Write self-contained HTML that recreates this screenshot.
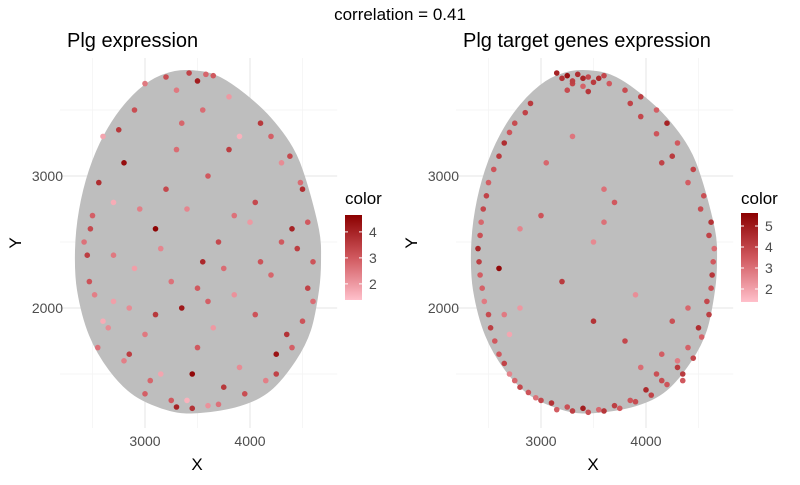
<!DOCTYPE html>
<html><head><meta charset="utf-8"><style>
body{margin:0;background:#fff;width:800px;height:480px;overflow:hidden}
svg text{font-family:"Liberation Sans",sans-serif}
</style></head><body>
<svg id="chart" width="800" height="480" viewBox="0 0 800 480">
<defs>
<linearGradient id="g1" x1="0" y1="1" x2="0" y2="0"><stop offset="0" stop-color="#ffc0cb"/><stop offset="0.5" stop-color="#d0585e"/><stop offset="1" stop-color="#8b0000"/></linearGradient>
</defs>
<text x="400" y="20" font-size="17" text-anchor="middle" fill="#000">correlation = 0.41</text>
</svg>
<script>
// tissue outline in data units (shared)
const outlineX=[3286,3524,3714,3952,4190,4400,4524,4648,4667,4648,4571,4429,4190,3905,3524,3238,2905,2667,2476,2362,2343,2381,2476,2619,2810,3048];
const outlineY=[3788,3788,3742,3614,3439,3212,2970,2591,2364,2136,1833,1606,1379,1265,1212,1227,1341,1530,1795,2136,2439,2742,3045,3311,3538,3712];
const xTicks=[3000,4000];
const yTicks=[2000,3000];
const leftX=[3000,3200,3500,3800,4100,2600,2800,3300,3600,3900,4300,4500,2500,2700,3100,3400,3700,4000,4400,2450,2900,3250,3550,3850,4200,4550,2600,3000,3350,3650,4050,4350,2800,3150,3500,3900,4250,3000,3400,3750,4150,3300,3600,3200,3550,2700,4450,2550,4600,3450,
 3420,3580,3650,3300,2900,2750,4200,4380,4480,4550,2420,2470,2520,2650,2850,3050,3250,3450,3700,3950,4250,4400,4500,4600,2560,2700,3150,3500,3850,4050,3350,3800,2950,3600,4100,2850,3100,3750,4300,2480];
const leftY=[3700,3750,3720,3600,3400,3300,3100,3200,3000,3300,3100,2900,2700,2800,2600,2750,2500,2650,2600,2400,2300,2200,2350,2100,2250,2150,1900,1800,2000,1850,1950,1800,1600,1500,1700,1550,1650,1350,1300,1400,1450,1250,1260,2900,3500,2050,2450,1700,2350,1500,
 3780,3770,3760,3650,3500,3350,3300,3150,2950,2650,2500,2200,2100,1850,1650,1450,1300,1240,1270,1350,1500,1700,1900,2050,2950,2400,2450,2150,2700,2800,3400,3200,2750,2050,2350,2000,1950,2300,2500,2600];
const leftV=[2.5,3.2,4.1,2.0,3.6,1.8,4.4,2.7,3.0,1.6,2.2,3.8,2.9,1.7,4.6,2.3,3.3,2.0,4.0,3.5,1.9,2.6,3.9,2.1,2.8,3.4,1.7,2.5,4.2,2.0,3.1,3.7,2.4,1.8,3.0,2.2,4.3,2.9,1.6,3.6,2.4,4.0,2.1,3.3,2.7,1.9,3.5,2.6,3.1,4.5,
 3.4,2.8,3.0,2.5,3.2,3.6,2.9,3.3,2.7,3.0,2.6,3.1,2.4,2.2,3.5,2.8,3.0,3.7,2.6,3.2,3.4,2.9,3.1,2.7,3.8,2.5,2.3,3.0,2.6,3.3,2.8,3.5,2.4,2.9,3.1,2.2,3.6,2.7,3.0,3.3];
const rightX=[3150,3250,3350,3450,3550,3650,3300,3400,2900,2750,2650,2550,2480,2430,2400,2420,2460,2520,2600,2700,2800,2950,3100,3250,3400,3550,3700,3850,4000,4150,4300,4400,4500,4580,4630,4650,4620,4550,4450,4300,4200,4100,3950,3800,3600,3500,3200,2800,2600,3000,4300,3800,3500,3900,4100,2700,4400,4150,3300,3700,
 3200,3300,3400,3500,3600,3250,3450,2850,2700,2600,2500,2450,2420,2410,2440,2500,2560,2650,2750,2880,3000,3150,3300,3450,3600,3750,3900,4050,4200,4350,4450,4530,4600,4620,4640,4600,4520,4400,4250,4100,3950,3850,2800,3050,3600,4250,4150,3950,4350,2650];
const rightY=[3780,3760,3770,3750,3740,3700,3700,3680,3550,3400,3250,3050,2850,2650,2450,2250,2050,1850,1650,1500,1400,1320,1280,1250,1240,1230,1260,1300,1380,1450,1550,1700,1850,2050,2250,2450,2650,2850,3050,3250,3400,3500,3600,3650,2900,2500,2200,2000,2300,2700,1600,1750,1900,2100,1500,1800,2000,3100,3300,2800,
 3740,3720,3740,3710,3760,3650,3640,3480,3330,3150,2950,2750,2550,2350,2150,1950,1750,1580,1450,1360,1300,1230,1220,1210,1220,1240,1290,1340,1420,1500,1620,1780,1950,2150,2350,2550,2750,2950,3150,3320,3450,3550,2600,3100,2650,1900,1650,1550,1450,1950];
const rightV=[4.8,5.2,4.5,3.9,4.6,3.5,4.0,3.3,4.2,3.8,4.5,3.6,4.0,3.2,4.7,3.4,2.8,4.1,3.5,2.6,3.9,3.0,4.4,3.7,4.9,3.2,4.1,3.6,4.6,3.8,4.2,3.3,4.5,3.9,4.3,3.1,4.4,3.7,4.0,3.5,4.8,3.4,4.1,3.8,3.0,2.5,4.2,2.2,5.4,3.6,2.8,3.9,4.4,2.4,3.7,1.9,3.2,4.0,2.9,3.5,
 4.4,4.1,4.7,4.2,3.9,3.8,4.3,4.0,3.6,4.2,3.4,3.9,3.7,4.1,3.3,3.8,3.5,4.0,3.2,3.6,3.9,3.4,4.1,3.7,4.3,3.5,3.8,4.0,3.6,4.2,3.9,3.3,4.1,3.7,3.5,4.0,3.8,3.4,4.2,3.6,3.9,4.0,2.6,3.2,3.0,3.7,3.4,3.1,3.5,2.8];
const leftTicks=[2,3,4];
const rightTicks=[2,3,4,5];

const svg=document.getElementById('chart');
const NS='http://www.w3.org/2000/svg';
function mk(tag,attrs,parent){const e=document.createElementNS(NS,tag);for(const k in attrs)e.setAttribute(k,attrs[k]);(parent||svg).appendChild(e);return e;}
function lerpColor(t){t=Math.max(0,Math.min(1,t));
  const a=[255,192,203],m=[208,88,94],b=[139,0,0];let p,q,u;
  if(t<0.5){p=a;q=m;u=t*2;}else{p=m;q=b;u=(t-0.5)*2;}
  return 'rgb('+p.map((v,i)=>Math.round(v+(q[i]-v)*u)).join(',')+')';}
function smoothPath(P){const n=P.length;let d='M'+P[0][0]+','+P[0][1];
  for(let i=0;i<n;i++){const p0=P[(i-1+n)%n],p1=P[i],p2=P[(i+1)%n],p3=P[(i+2)%n];
    d+=' C'+(p1[0]+(p2[0]-p0[0])/6)+','+(p1[1]+(p2[1]-p0[1])/6)+' '+(p2[0]-(p3[0]-p1[0])/6)+','+(p2[1]-(p3[1]-p1[1])/6)+' '+p2[0]+','+p2[1];}
  return d+'Z';}

function panel(name,x0,title,px,py,pv,vmin,vmax,ticks,barTop,barBot){
  const sx=v=>x0+(v-3000)*0.105;
  const sy=v=>176-(v-3000)*0.132;
  const g=mk('g',{});
  
  
  [2500,3000,3500,4000,4500].forEach(v=>{const l=mk('line',{x1:sx(v),x2:sx(v),y1:58,y2:428,stroke:v%1000?'#f3f3f3':'#e6e6e6','stroke-width':v%1000?0.7:1.1},g);
    });
  [1500,2000,2500,3000,3500].forEach(v=>{const l=mk('line',{x1:sx(2190),x2:sx(4830),y1:sy(v),y2:sy(v),stroke:v%1000?'#f3f3f3':'#e6e6e6','stroke-width':v%1000?0.7:1.1},g);
    });
  const P=outlineX.map((v,i)=>[sx(v),sy(outlineY[i])]);
  const poly=mk('path',{d:smoothPath(P),fill:'#bebebe',stroke:'#bebebe','stroke-width':2},g);
  
  
  px.forEach((v,i)=>{const c=mk('circle',{cx:sx(v),cy:sy(py[i]),r:2.8,fill:lerpColor((pv[i]-vmin)/(vmax-vmin))},g);
    });
  xTicks.forEach(v=>{const t=mk('text',{x:sx(v),y:446,'font-size':14,'text-anchor':'middle',fill:'#4d4d4d'},g);t.textContent=v;
    });
  yTicks.forEach(v=>{const t=mk('text',{x:x0-82,y:sy(v)+5,'font-size':14,'text-anchor':'end',fill:'#4d4d4d'},g);t.textContent=v;
    });
  let t=mk('text',{x:x0+52,y:470,'font-size':17,'text-anchor':'middle',fill:'#000'},g);t.textContent='X';
  
  t=mk('text',{x:0,y:0,'font-size':17,'text-anchor':'middle',fill:'#000',transform:'translate('+(x0-124)+',243) rotate(-90)'},g);t.textContent='Y';
  
  t=mk('text',{x:x0-78,y:47,'font-size':20,fill:'#000'},g);t.textContent=title;
  
  const lx=x0+200;
  t=mk('text',{x:lx,y:204,'font-size':17,fill:'#000'},g);t.textContent='color';
  
  const r=mk('rect',{x:lx,y:barTop,width:17,height:barBot-barTop,fill:'url(#g1)'},g);
  
  const vy=v=>barBot-(v-vmin)/(vmax-vmin)*(barBot-barTop);
  ticks.forEach(v=>{mk('line',{x1:lx,x2:lx+3,y1:vy(v),y2:vy(v),stroke:'#fff'},g);mk('line',{x1:lx+14,x2:lx+17,y1:vy(v),y2:vy(v),stroke:'#fff'},g);
    const tt=mk('text',{x:lx+24,y:vy(v)+5,'font-size':14,fill:'#4d4d4d'},g);tt.textContent=v;
    });
}
panel('plg-expression',145,'Plg expression',leftX,leftY,leftV,1.38,4.65,leftTicks,215,300);
panel('target-genes',541,'Plg target genes expression',rightX,rightY,rightV,1.38,5.62,rightTicks,213,302);
</script>
</body></html>
